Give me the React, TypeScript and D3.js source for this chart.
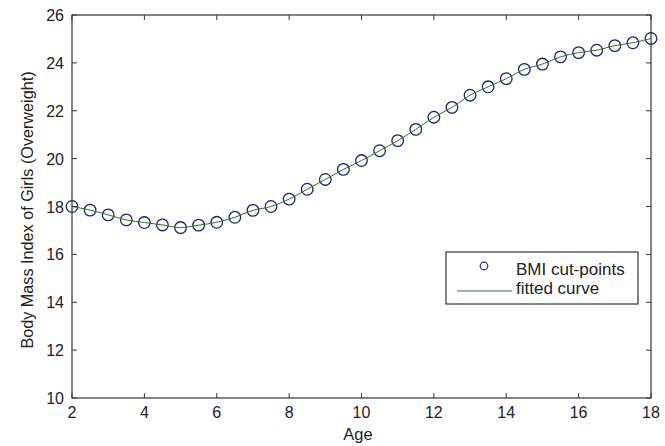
import { useEffect, useRef } from 'react';
import * as d3 from 'd3';

const ages = [2, 2.5, 3, 3.5, 4, 4.5, 5, 5.5, 6, 6.5, 7, 7.5, 8, 8.5, 9, 9.5, 10, 10.5, 11, 11.5, 12, 12.5, 13, 13.5, 14, 14.5, 15, 15.5, 16, 16.5, 17, 17.5, 18];
const bmi = [18.0, 17.85, 17.65, 17.44, 17.33, 17.23, 17.12, 17.22, 17.34, 17.55, 17.84, 18.0, 18.31, 18.72, 19.13, 19.55, 19.92, 20.33, 20.75, 21.22, 21.73, 22.14, 22.65, 23.0, 23.34, 23.73, 23.95, 24.25, 24.43, 24.53, 24.72, 24.84, 25.02];
const xTicks = [2, 4, 6, 8, 10, 12, 14, 16, 18];
const yTicks = [10, 12, 14, 16, 18, 20, 22, 24, 26];
const legendItems = ['BMI cut-points', 'fitted curve'];

export default function App() {
  const svgRef = useRef<SVGSVGElement>(null);

  useEffect(() => {
    const svg = d3.select(svgRef.current);
    svg.selectAll('*').remove();

    const width = 665;
    const height = 446;
    const margin = { top: 15, right: 14, bottom: 48, left: 72 };
    const innerWidth = width - margin.left - margin.right;
    const innerHeight = height - margin.top - margin.bottom;
    const font = 'Arial, "Liberation Sans", sans-serif';
    const axisColor = '#333';
    const textColor = '#222';
    const markerColor = '#1c2470';
    const lineColor = '#1e7a1e';

    svg.attr('width', width).attr('height', height);
    svg.append('rect').attr('width', width).attr('height', height).attr('fill', '#fff');

    const g = svg.append('g').attr('transform', `translate(${margin.left},${margin.top})`);

    const x = d3.scaleLinear().domain([2, 18]).range([0, innerWidth]);
    const y = d3.scaleLinear().domain([10, 26]).range([innerHeight, 0]);

    // data points (open circles)
    const pts = ages.map((a, i) => ({ a, v: bmi[i] }));
    g.selectAll('.pt')
      .data(pts)
      .join('circle')
      .attr('class', 'pt')
      .attr('cx', d => x(d.a))
      .attr('cy', d => y(d.v))
      .attr('r', 5.8)
      .attr('fill', 'none')
      .attr('stroke', markerColor)
      .attr('stroke-width', 1.3);

    // fitted curve
    const line = d3.line<{ a: number; v: number }>()
      .x(d => x(d.a))
      .y(d => y(d.v))
      .curve(d3.curveCatmullRom);
    g.append('path')
      .datum(pts)
      .attr('d', line)
      .attr('fill', 'none')
      .attr('stroke', lineColor)
      .attr('stroke-width', 1);

    // box
    g.append('rect')
      .attr('width', innerWidth)
      .attr('height', innerHeight)
      .attr('fill', 'none')
      .attr('stroke', axisColor)
      .attr('stroke-width', 1.2);

    const tickLen = 5;
    // inner ticks on all four sides
    xTicks.forEach(t => {
      g.append('line').attr('x1', x(t)).attr('x2', x(t)).attr('y1', innerHeight).attr('y2', innerHeight - tickLen).attr('stroke', axisColor);
      g.append('line').attr('x1', x(t)).attr('x2', x(t)).attr('y1', 0).attr('y2', tickLen).attr('stroke', axisColor);
    });
    yTicks.forEach(t => {
      g.append('line').attr('x1', 0).attr('x2', tickLen).attr('y1', y(t)).attr('y2', y(t)).attr('stroke', axisColor);
      g.append('line').attr('x1', innerWidth).attr('x2', innerWidth - tickLen).attr('y1', y(t)).attr('y2', y(t)).attr('stroke', axisColor);
    });

    g.selectAll('.xl')
      .data(xTicks)
      .join('text')
      .attr('class', 'xl')
      .attr('x', d => x(d))
      .attr('y', innerHeight + 20)
      .attr('text-anchor', 'middle')
      .style('font-family', font)
      .style('font-size', '16px')
      .attr('fill', textColor)
      .text(d => d);

    g.selectAll('.yl')
      .data(yTicks)
      .join('text')
      .attr('class', 'yl')
      .attr('x', -8)
      .attr('y', d => y(d) + 6)
      .attr('text-anchor', 'end')
      .style('font-family', font)
      .style('font-size', '16px')
      .attr('fill', textColor)
      .text(d => d);

    svg.append('text')
      .attr('x', 358)
      .attr('y', 440)
      .attr('text-anchor', 'middle')
      .style('font-family', font)
      .style('font-size', '16.5px')
      .attr('fill', textColor)
      .text('Age');

    svg.append('text')
      .attr('transform', `translate(33,210) rotate(-90)`)
      .attr('text-anchor', 'middle')
      .style('font-family', font)
      .style('font-size', '16.2px')
      .attr('fill', textColor)
      .text('Body Mass Index of Girls (Overweight)');

    // legend
    const lg = svg.append('g').attr('transform', 'translate(446,252)');
    lg.append('rect')
      .attr('width', 192)
      .attr('height', 52)
      .attr('fill', '#fff')
      .attr('stroke', axisColor)
      .attr('stroke-width', 1.2);
    lg.append('circle')
      .attr('cx', 38)
      .attr('cy', 14)
      .attr('r', 3.8)
      .attr('fill', 'none')
      .attr('stroke', markerColor)
      .attr('stroke-width', 1.2);
    lg.append('line')
      .attr('x1', 11)
      .attr('x2', 66)
      .attr('y1', 39)
      .attr('y2', 39)
      .attr('stroke', lineColor);
    lg.selectAll('.lt')
      .data(legendItems)
      .join('text')
      .attr('class', 'lt')
      .attr('x', 70)
      .attr('y', (d, i) => 23 + i * 19)
      .style('font-family', font)
      .style('font-size', '17px')
      .attr('fill', textColor)
      .text(d => d);
  }, []);

  return <svg ref={svgRef} style={{ position: 'absolute', left: 0, top: 0 }}></svg>;
}
